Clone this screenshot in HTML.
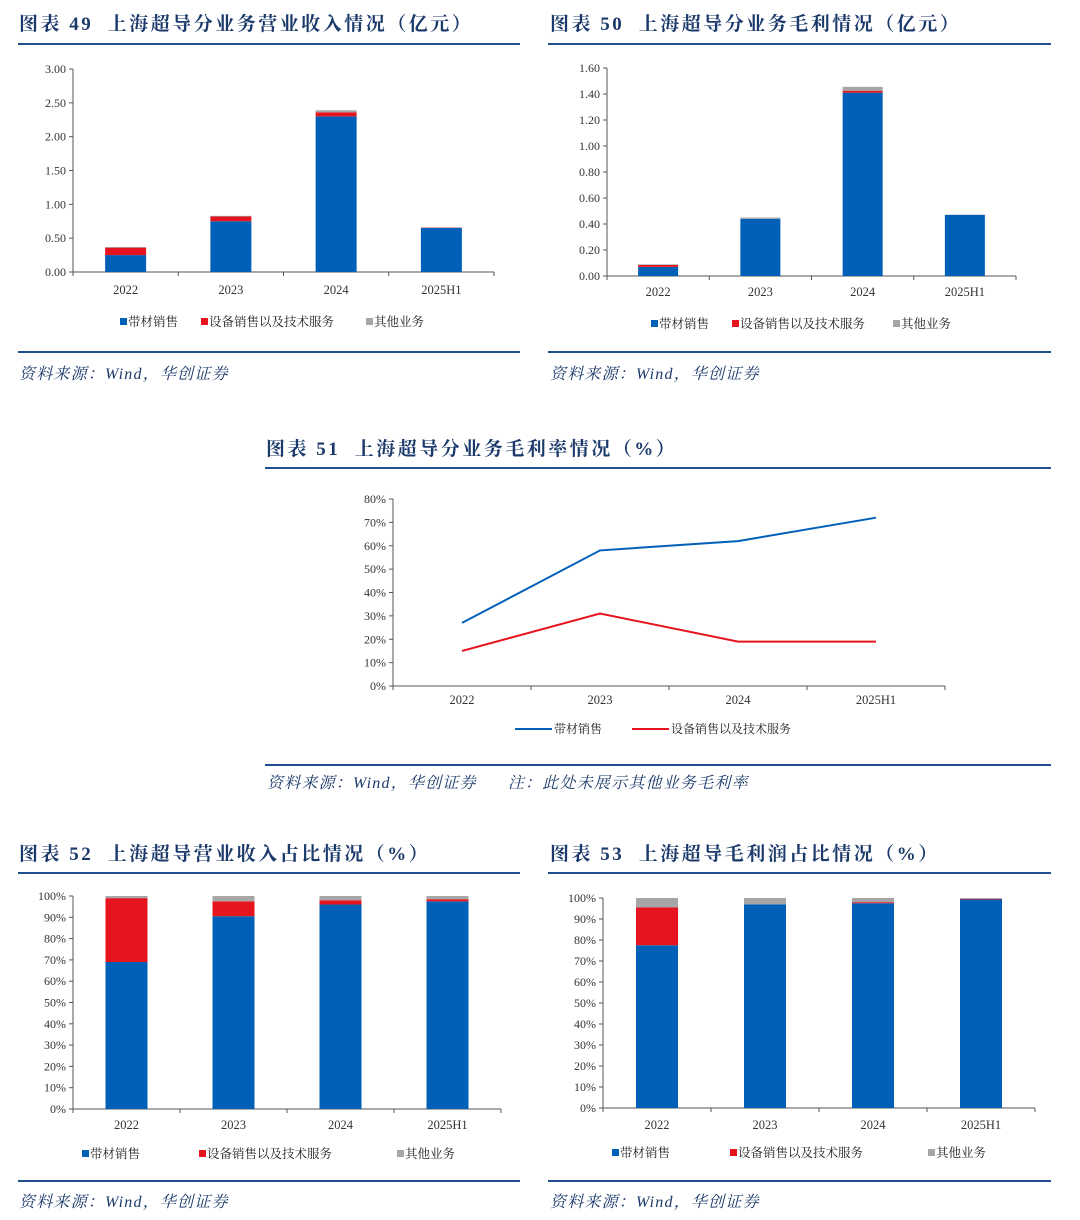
<!DOCTYPE html>
<html><head><meta charset="utf-8">
<style>
body{margin:0;background:#fff;width:1080px;height:1220px;overflow:hidden;position:relative;font-family:"Liberation Serif","Noto Serif CJK SC",serif}
.t{position:absolute;font-weight:bold;font-size:19px;color:#1b3a6b;white-space:pre;letter-spacing:2.5px}
.r{position:absolute;height:2px;background:#1f4e8c}
.s{position:absolute;font-style:italic;font-size:16px;color:#1b3a6b;white-space:pre;letter-spacing:1.2px}
svg{position:absolute;left:0;top:0}
</style></head><body>
<div class="t" style="left:19px;top:9px">图表 49  上海超导分业务营业收入情况（亿元）</div>
<div class="r" style="left:18px;top:43px;width:502px"></div>
<div class="r" style="left:18px;top:351px;width:502px"></div>
<div class="s" style="left:19px;top:361px">资料来源：Wind，华创证券</div>

<div class="t" style="left:550px;top:9px">图表 50  上海超导分业务毛利情况（亿元）</div>
<div class="r" style="left:548px;top:43px;width:503px"></div>
<div class="r" style="left:548px;top:351px;width:503px"></div>
<div class="s" style="left:550px;top:361px">资料来源：Wind，华创证券</div>

<div class="t" style="left:266px;top:434px">图表 51  上海超导分业务毛利率情况（%）</div>
<div class="r" style="left:265px;top:467px;width:786px"></div>
<div class="r" style="left:265px;top:764px;width:786px"></div>
<div class="s" style="left:267px;top:770px">资料来源：Wind，华创证券      注：此处未展示其他业务毛利率</div>

<div class="t" style="left:19px;top:839px">图表 52  上海超导营业收入占比情况（%）</div>
<div class="r" style="left:18px;top:872px;width:502px"></div>
<div class="r" style="left:18px;top:1180px;width:502px"></div>
<div class="s" style="left:19px;top:1189px">资料来源：Wind，华创证券</div>

<div class="t" style="left:550px;top:839px">图表 53  上海超导毛利润占比情况（%）</div>
<div class="r" style="left:548px;top:872px;width:503px"></div>
<div class="r" style="left:548px;top:1180px;width:503px"></div>
<div class="s" style="left:550px;top:1189px">资料来源：Wind，华创证券</div>

<svg id="svg" width="1080" height="1220"></svg>
<script>
const categories = ["2022","2023","2024","2025H1"];
const seriesNames = ["带材销售","设备销售以及技术服务","其他业务"];
const colors = ["#0060b8","#e5141e","#a6a6a6"];
// Chart 49: revenue (亿元)
const rev49Tape = [0.25,0.75,2.30,0.65];
const rev49Equip = [0.11,0.07,0.06,0.005];
const rev49Other = [0.01,0.01,0.03,0.005];
const ticks49 = ["0.00","0.50","1.00","1.50","2.00","2.50","3.00"];
// Chart 50: gross profit (亿元)
const gp50Tape = [0.07,0.44,1.41,0.47];
const gp50Equip = [0.015,0.0,0.015,0.0];
const gp50Other = [0.005,0.01,0.03,0.002];
const ticks50 = ["0.00","0.20","0.40","0.60","0.80","1.00","1.20","1.40","1.60"];
// Chart 51: gross margin (%)
const gm51Tape = [27,58,62,72];
const gm51Equip = [15,31,19,19];
const ticks51 = ["0%","10%","20%","30%","40%","50%","60%","70%","80%"];
// Chart 52: revenue share (%)
const sh52Tape = [69,90.5,96,97.5];
const sh52Equip = [30,7,2,1];
const sh52Other = [1,2.5,2,1.5];
// Chart 53: gross profit share (%)
const sh53Tape = [77.5,97,97.5,99.3];
const sh53Equip = [18,0,0.5,0.3];
const sh53Other = [4.5,3,2,0.4];
const ticksPct = ["0%","10%","20%","30%","40%","50%","60%","70%","80%","90%","100%"];

const NS="http://www.w3.org/2000/svg";
const svg=document.getElementById('svg');
function mk(tag,attrs,parent){const e=document.createElementNS(NS,tag);for(const k in attrs)e.setAttribute(k,attrs[k]);(parent||svg).appendChild(e);return e;}
const FONT='"Liberation Serif","Noto Serif CJK SC",serif';

function axes(g,c,tickLabels,name){
  const yS=v=>c.y0-(v/c.max)*(c.y0-c.y1);
  mk('line',{x1:c.x0,y1:c.y1,x2:c.x0,y2:c.y0,stroke:'#555','stroke-width':1},g);
  mk('line',{x1:c.x0,y1:c.y0,x2:c.x2,y2:c.y0,stroke:'#555','stroke-width':1},g);
  tickLabels.forEach((t,i)=>{
    const v=c.max*i/(tickLabels.length-1);const y=yS(v);
    mk('line',{x1:c.x0-4,y1:y,x2:c.x0,y2:y,stroke:'#555'},g);
    const tx=mk('text',{x:c.x0-7,y:y+4,'text-anchor':'end','font-size':12,'font-family':FONT,fill:'#333'},g);
    tx.textContent=t;
    
    
  });
  const n=categories.length,w=(c.x2-c.x0)/n;
  for(let i=0;i<=n;i++){mk('line',{x1:c.x0+i*w,y1:c.y0,x2:c.x0+i*w,y2:c.y0+4,stroke:'#555'},g);}
  categories.forEach((cat,i)=>{
    const tx=mk('text',{x:c.x0+(i+0.5)*w,y:c.y0+c.lab,'text-anchor':'middle','font-size':12.5,'font-family':FONT,fill:'#333'},g);
    tx.textContent=cat;
    
    
  });
  return {yS,xC:i=>c.x0+(i+0.5)*w};
}
function stacked(name,c,series,tickLabels){
  const g=mk('g',{});
  
  
  const {yS,xC}=axes(g,c,tickLabels,name);
  categories.forEach((cat,i)=>{
    let acc=0;
    series.forEach((s,k)=>{
      const v=s[i];if(v<=0)return;
      const r=mk('rect',{x:xC(i)-c.bw/2,y:yS(acc+v),width:c.bw,height:yS(acc)-yS(acc+v),fill:colors[k]},g);
      
      
      acc+=v;
    });
  });
  c.leg.forEach((lx,k)=>{
    const r=mk('rect',{x:lx,y:c.ly-4,width:7,height:7,fill:colors[k]},g);
    
    
    const t=mk('text',{x:lx+8,y:c.ly+4,'font-size':12.5,'font-family':FONT,fill:'#222'},g);
    t.textContent=seriesNames[k];
    
    
  });
}
stacked('chart-49',{x0:73,x2:494,y0:272,y1:69,max:3,bw:41,lab:22,ly:322,leg:[120,201,366]},[rev49Tape,rev49Equip,rev49Other],ticks49);
stacked('chart-50',{x0:607,x2:1016,y0:276,y1:68,max:1.6,bw:40,lab:20,ly:324,leg:[651,732,893]},[gp50Tape,gp50Equip,gp50Other],ticks50);
stacked('chart-52',{x0:73,x2:501,y0:1109,y1:896,max:100,bw:42,lab:20,ly:1154,leg:[82,199,397]},[sh52Tape,sh52Equip,sh52Other],ticksPct);
stacked('chart-53',{x0:603,x2:1035,y0:1108,y1:898,max:100,bw:42,lab:21,ly:1153,leg:[612,730,928]},[sh53Tape,sh53Equip,sh53Other],ticksPct);

// Chart 51 lines
(function(){
  const g=mk('g',{});
  
  
  const c={x0:393,x2:945,y0:686,y1:499,max:80,lab:18};
  const {yS,xC}=axes(g,c,ticks51,'chart-51');
  [gm51Tape,gm51Equip].forEach((s,k)=>{
    const p=mk('polyline',{points:s.map((v,i)=>xC(i)+','+yS(v)).join(' '),fill:'none',stroke:colors[k],'stroke-width':2},g);
    
    
  });
  [[515,seriesNames[0]],[632,seriesNames[1]]].forEach((d,k)=>{
    const l=mk('line',{x1:d[0],y1:729,x2:d[0]+37,y2:729,stroke:colors[k],'stroke-width':2},g);
    
    
    const t=mk('text',{x:d[0]+39,y:733,'font-size':12,'font-family':FONT,fill:'#222'},g);
    t.textContent=d[1];
    
    
  });
})();
</script>
</body></html>
